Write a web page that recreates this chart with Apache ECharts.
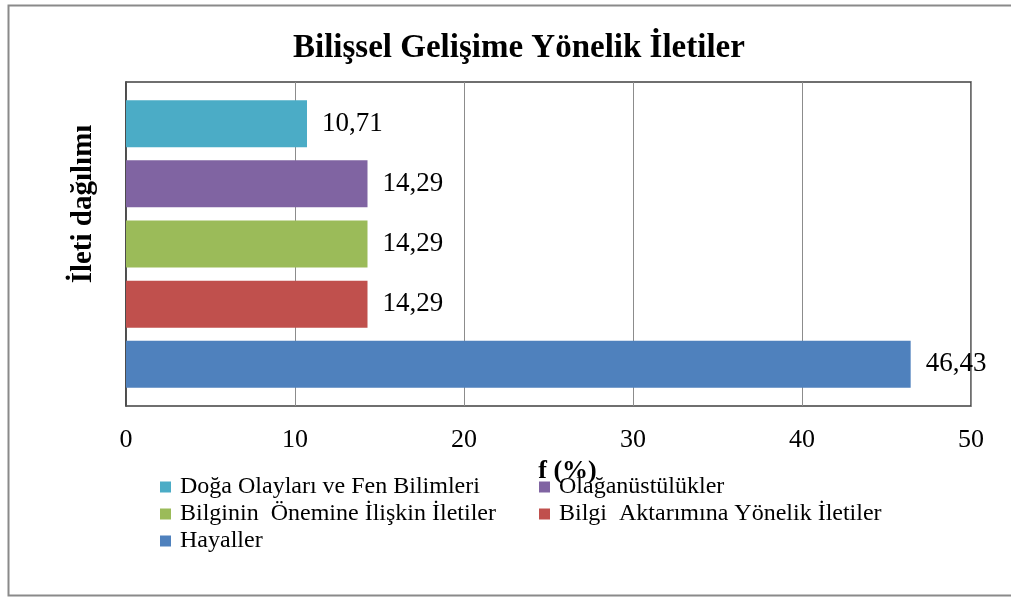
<!DOCTYPE html>
<html>
<head>
<meta charset="utf-8">
<script src="https://cdn.jsdelivr.net/npm/echarts@6/dist/echarts.min.js"></script>
<style>
    html, body {margin: 0; padding: 0; background: #fff;}
    #chart {width: 1011px; height: 597px;}
</style>
</head>
<body>
<div id="chart"></div>
<script>
// veriler (üstten alta çizim sırası)
var categories = ['İleti dağılımı']
var seriesNames = ['Doğa Olayları ve Fen Bilimleri', 'Olağanüstülükler', 'Bilginin  Önemine İlişkin İletiler', 'Bilgi  Aktarımına Yönelik İletiler', 'Hayaller']
var seriesValues = [10.71, 14.29, 14.29, 14.29, 46.43]
var seriesColors = ['#4BACC6', '#8064A2', '#9BBB59', '#C0504D', '#4F81BD']
var xTicks = [0, 10, 20, 30, 40, 50]

var serif = '"Liberation Serif", "DejaVu Serif", serif'
var myChart = echarts.init(document.getElementById('chart'))

var series = []
for (var i = 0; i < seriesNames.length; i++) {
    series.push({
        name: seriesNames[i],
        type: 'bar',
        data: [seriesValues[i]],
        barWidth: 47,
        barGap: '28%',
        itemStyle: {color: seriesColors[i]},
        label: {
            show: true,
            position: 'right',
            distance: 15,
            fontFamily: serif,
            fontSize: 27,
            color: '#000',
            formatter: function (p) {
                return p.value.toFixed(2).replace('.', ',')
            }
        }
    })
}

// lejant: iki sütun
var legendPos = [
    {left: 160, top: 475},
    {left: 539, top: 475},
    {left: 160, top: 502},
    {left: 539, top: 502},
    {left: 160, top: 529}
]
var legends = legendPos.map(function (l, i) {
    return {
        data: [seriesNames[i]],
        left: l.left,
        top: l.top,
        orient: 'horizontal',
        icon: 'rect',
        itemWidth: 11,
        itemHeight: 11,
        itemGap: 0,
        padding: 0,
        textStyle: {fontFamily: serif, fontSize: 24, color: '#000', padding: [0, 0, 0, 4]}
    }
})

myChart.setOption({
    animation: false,
    title: {
        text: 'Bilişsel Gelişime Yönelik İletiler',
        left: 288,
        top: 27,
        textStyle: {fontFamily: serif, fontSize: 33, fontWeight: 'bold', color: '#000'}
    },
    legend: legends,
    grid: {
        left: 126, right: 40, top: 82, bottom: 191,
        show: true, borderColor: '#404040', borderWidth: 1.5
    },
    xAxis: {
        type: 'value',
        min: 0, max: 50, interval: 10,
        name: 'f (%)',
        nameLocation: 'middle',
        nameGap: 46,
        nameTextStyle: {fontFamily: serif, fontSize: 26, fontWeight: 'bold', color: '#000', padding: [0, 0, 0, 38]},
        axisLine: {show: false},
        axisTick: {show: false},
        axisLabel: {
            fontFamily: serif, fontSize: 26, color: '#000', margin: 21,
            formatter: function (v) { return xTicks.indexOf(v) >= 0 ? String(v) : '' }
        },
        splitLine: {show: true, lineStyle: {color: '#8c8c8c', width: 1}}
    },
    yAxis: {
        type: 'category',
        data: categories,
        name: 'İleti dağılımı',
        nameLocation: 'middle',
        nameGap: 28,
        nameTextStyle: {fontFamily: serif, fontSize: 29, fontWeight: 'bold', color: '#000', padding: [0, 0, 0, 80]},
        axisLine: {show: true, lineStyle: {color: '#404040', width: 1.5}},
        axisTick: {show: false},
        axisLabel: {show: false}
    },
    graphic: [{
        type: 'rect',
        shape: {x: 8.5, y: 5.5, width: 1010, height: 590},
        style: {fill: 'none', stroke: '#8a8a8a', lineWidth: 2},
        silent: true
    }],
    series: series
})
</script>
</body>
</html>
